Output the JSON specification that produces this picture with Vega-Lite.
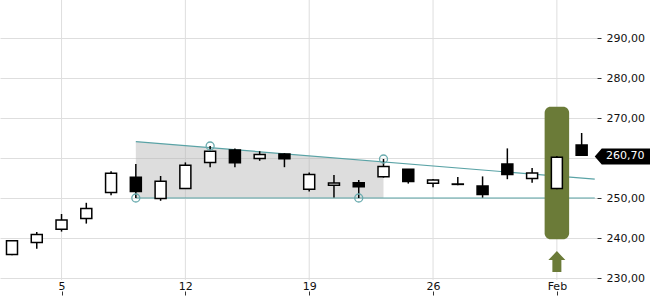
{
  "$schema": "https://vega.github.io/schema/vega-lite/v6.json",
  "width": 597,
  "height": 280,
  "autosize": {"type": "none"},
  "padding": {"left": 0, "top": 0, "right": 53, "bottom": 20},
  "background": "white",
  "config": {
    "view": {"stroke": null},
    "font": "DejaVu Sans",
    "axis": {"labelFont": "DejaVu Sans", "labelFontSize": 11, "labelColor": "#222"}
  },
  "datasets": {
    "gridx": [{"i": 2}, {"i": 7}, {"i": 12}, {"i": 17}, {"i": 22}],
    "wedge": [{"i": 5, "top": 264.1, "bot": 250}, {"i": 15, "top": 259.0, "bot": 250}],
    "trend": [
      {"i": 5, "i2": 23.53, "v": 264.1, "v2": 254.7},
      {"i": 5, "i2": 23.53, "v": 250, "v2": 250}
    ],
    "signal": [{"i": 22, "lo": 239.7, "hi": 272.8, "arrow": 234.1}],
    "candles": [
      {"i": 0, "o": 235.9, "h": 239.5, "l": 235.7, "c": 239.3},
      {"i": 1, "o": 238.9, "h": 241.5, "l": 237.3, "c": 240.9},
      {"i": 2, "o": 242.2, "h": 246.0, "l": 241.6, "c": 244.5},
      {"i": 3, "o": 244.9, "h": 248.8, "l": 243.6, "c": 247.4},
      {"i": 4, "o": 251.4, "h": 256.7, "l": 250.7, "c": 256.2},
      {"i": 5, "o": 255.2, "h": 258.5, "l": 250.0, "c": 251.6},
      {"i": 6, "o": 249.9, "h": 255.5, "l": 249.3, "c": 254.2},
      {"i": 7, "o": 252.4, "h": 258.9, "l": 252.4, "c": 258.2},
      {"i": 8, "o": 258.9, "h": 263.0, "l": 257.7, "c": 261.7},
      {"i": 9, "o": 262.0, "h": 262.4, "l": 257.7, "c": 258.8},
      {"i": 10, "o": 259.9, "h": 261.7, "l": 259.3, "c": 260.9},
      {"i": 11, "o": 261.0, "h": 261.2, "l": 257.7, "c": 259.8},
      {"i": 12, "o": 252.2, "h": 256.4, "l": 251.6, "c": 255.9},
      {"i": 13, "o": 253.2, "h": 255.75, "l": 250.1, "c": 253.75},
      {"i": 14, "o": 253.8, "h": 254.5, "l": 250.0, "c": 252.8},
      {"i": 15, "o": 255.3, "h": 259.75, "l": 255.1, "c": 257.9},
      {"i": 16, "o": 257.2, "h": 257.2, "l": 253.6, "c": 254.1},
      {"i": 17, "o": 253.7, "h": 254.75, "l": 252.7, "c": 254.5},
      {"i": 18, "o": 253.5, "h": 255.25, "l": 253.2, "c": 253.4},
      {"i": 19, "o": 253.0, "h": 255.4, "l": 250.1, "c": 250.9},
      {"i": 20, "o": 258.5, "h": 262.4, "l": 254.7, "c": 255.9},
      {"i": 21, "o": 254.9, "h": 257.5, "l": 253.8, "c": 256.25},
      {"i": 22, "o": 252.4, "h": 260.5, "l": 252.2, "c": 260.2},
      {"i": 23, "o": 263.25, "h": 266.25, "l": 260.6, "c": 260.7}
    ],
    "pivots": [
      {"i": 5, "v": 250.0},
      {"i": 8, "v": 263.0},
      {"i": 14, "v": 250.0},
      {"i": 15, "v": 259.75}
    ],
    "last": [{"i": 23.67, "ti": 23.98, "c": 260.4, "label": "260,70"}]
  },
  "layer": [
    {
      "data": {"name": "gridx"},
      "mark": {"type": "rule", "color": "#dedede", "strokeWidth": 1},
      "encoding": {
        "x": {
          "field": "i", "type": "quantitative", "title": null,
          "scale": {"domain": [-0.4844, 23.62], "nice": false, "zero": false, "padding": 0},
          "axis": {
            "values": [2, 7, 12, 17, 22],
            "labelExpr": "datum.value == 2 ? '5' : datum.value == 7 ? '12' : datum.value == 12 ? '19' : datum.value == 17 ? '26' : 'Feb'",
            "grid": false, "domain": false, "ticks": true, "tickSize": 4, "tickColor": "#333",
            "offset": 11, "labelPadding": -15, "labelColor": "#111", "labelFontSize": 11
          }
        }
      }
    },
    {
      "data": {"name": "wedge"},
      "mark": {"type": "area", "color": "#b4b4b4", "opacity": 0.45},
      "encoding": {
        "x": {"field": "i", "type": "quantitative"},
        "y": {
          "field": "top", "type": "quantitative", "title": null,
          "scale": {"domain": [229.5, 299.5], "nice": false, "zero": false, "padding": 0},
          "axis": {
            "orient": "right",
            "values": [230, 240, 250, 260, 270, 280, 290],
            "labelExpr": "datum.value == 260 ? '' : replace(format(datum.value, '.2f'), '.', ',')",
            "grid": true, "gridColor": "#dedede", "domain": false,
            "tickSize": 4, "tickColor": "#333", "labelPadding": 5, "labelColor": "#111"
          }
        },
        "y2": {"field": "bot"}
      }
    },
    {
      "data": {"name": "trend"},
      "mark": {"type": "rule", "color": "#5aa3a6", "strokeWidth": 1.2},
      "encoding": {
        "x": {"field": "i", "type": "quantitative"},
        "x2": {"field": "i2"},
        "y": {"field": "v", "type": "quantitative"},
        "y2": {"field": "v2"}
      }
    },
    {
      "data": {"name": "signal"},
      "mark": {"type": "bar", "color": "#6b7b38", "width": 24.5, "cornerRadius": 6},
      "encoding": {
        "x": {"field": "i", "type": "quantitative"},
        "y": {"field": "lo", "type": "quantitative"},
        "y2": {"field": "hi"}
      }
    },
    {
      "data": {"name": "signal"},
      "mark": {
        "type": "point", "filled": true, "color": "#6b7b38", "opacity": 1, "size": 4,
        "shape": "M0,-10.5 L8.5,-1.5 L4.5,-1.5 L4.5,10.5 L-4.5,10.5 L-4.5,-1.5 L-8.5,-1.5 Z"
      },
      "encoding": {
        "x": {"field": "i", "type": "quantitative"},
        "y": {"field": "arrow", "type": "quantitative"}
      }
    },
    {
      "data": {"name": "candles"},
      "mark": {"type": "rule", "color": "black", "strokeWidth": 1.5},
      "encoding": {
        "x": {"field": "i", "type": "quantitative"},
        "y": {"field": "l", "type": "quantitative"},
        "y2": {"field": "h"}
      }
    },
    {
      "data": {"name": "candles"},
      "mark": {"type": "bar", "width": 11, "stroke": "black", "strokeWidth": 1.5},
      "encoding": {
        "x": {"field": "i", "type": "quantitative"},
        "y": {"field": "o", "type": "quantitative"},
        "y2": {"field": "c"},
        "fill": {"condition": {"test": "datum.c >= datum.o", "value": "white"}, "value": "black"}
      }
    },
    {
      "data": {"name": "pivots"},
      "mark": {"type": "point", "filled": false, "stroke": "#6aabae", "strokeWidth": 1.3, "size": 64, "opacity": 1},
      "encoding": {
        "x": {"field": "i", "type": "quantitative"},
        "y": {"field": "v", "type": "quantitative"}
      }
    },
    {
      "data": {"name": "last"},
      "mark": {
        "type": "point", "filled": true, "color": "black", "opacity": 1, "size": 4,
        "shape": "M-3.5,0 L3.5,-8 L60,-8 L60,8 L3.5,8 Z"
      },
      "encoding": {
        "x": {"field": "i", "type": "quantitative"},
        "y": {"field": "c", "type": "quantitative"}
      }
    },
    {
      "data": {"name": "last"},
      "mark": {"type": "text", "color": "white", "align": "left", "baseline": "middle", "fontSize": 11, "font": "DejaVu Sans"},
      "encoding": {
        "x": {"field": "ti", "type": "quantitative"},
        "y": {"field": "c", "type": "quantitative"},
        "text": {"field": "label"}
      }
    }
  ]
}
